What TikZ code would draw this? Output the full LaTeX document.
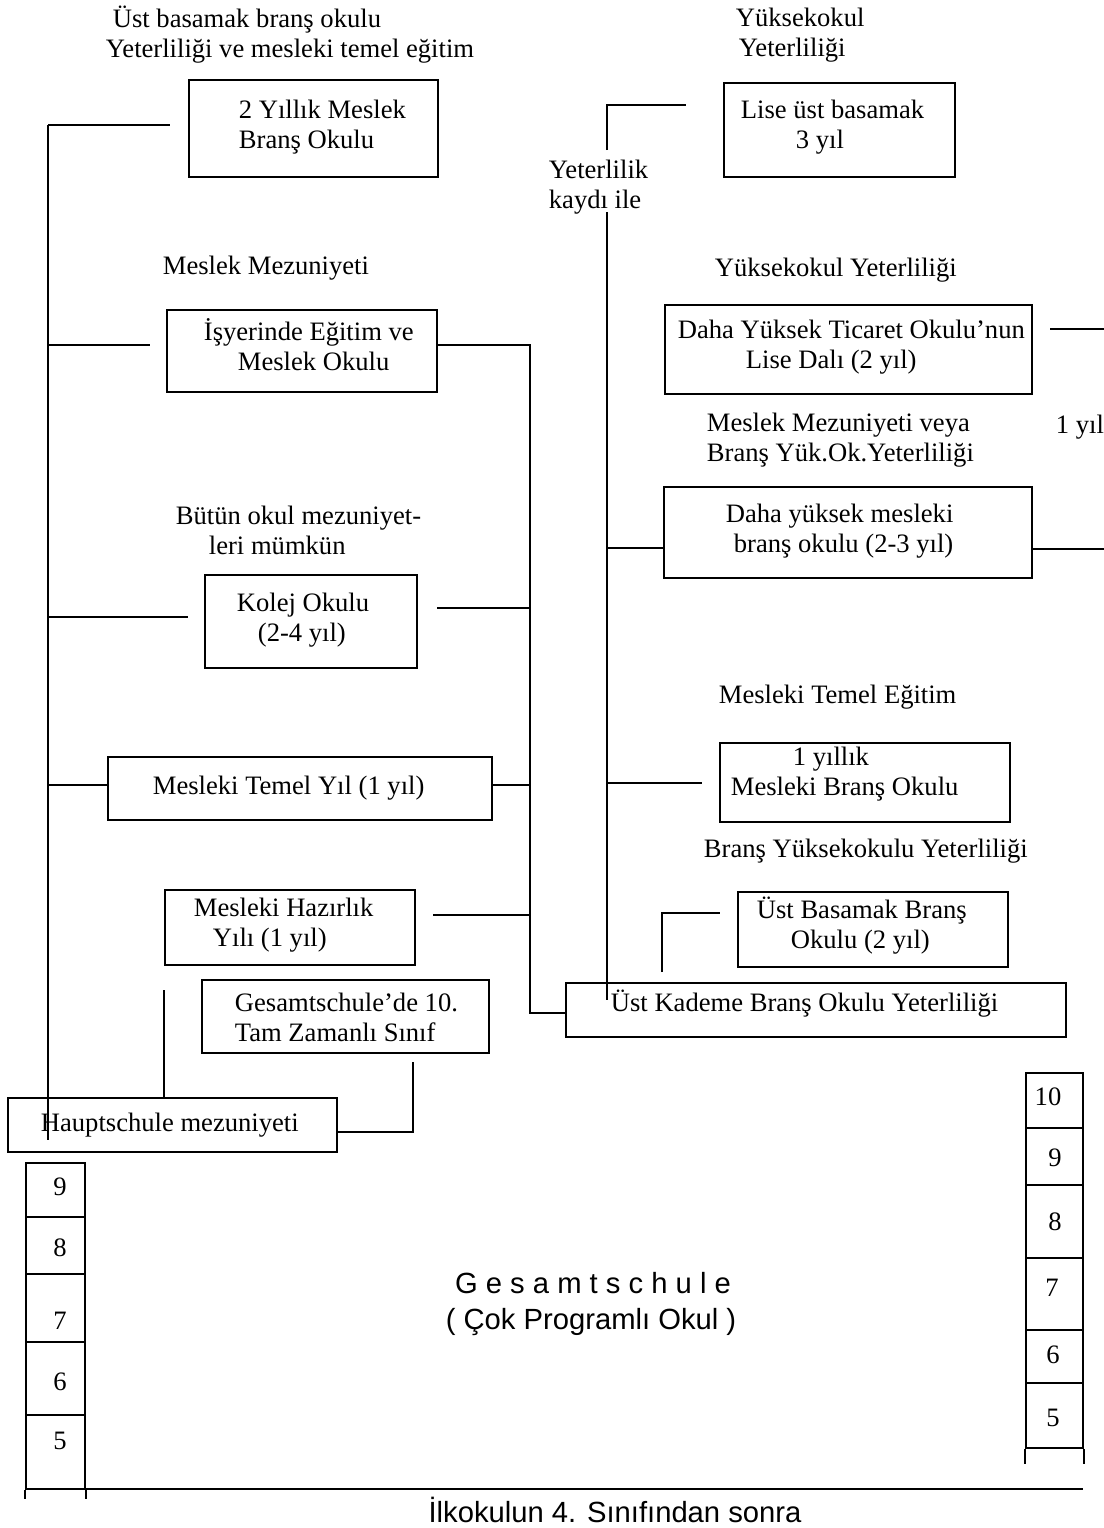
\documentclass[tikz,border=0pt]{standalone}
\usepackage{fontspec}
\setmainfont{Liberation Serif}
\newfontfamily\sansf{Liberation Sans}
\usetikzlibrary{fit,calc}
\begin{document}
\begin{tikzpicture}[x=0.5pt,y=-0.5pt,line width=0.9pt,
  every node/.style={font=\fontsize{13.3}{15}\selectfont, inner sep=0pt},
  box/.style={draw, inner sep=0pt, line width=0.9pt},
  txt/.style={anchor=west, align=left, inner sep=0pt},
  sans/.style={font=\sansf\fontsize{14.6}{17}\selectfont, inner sep=0pt},
  num/.style={inner sep=0pt}]
\useasboundingbox (0,0) rectangle (1104,1528);

% ---------- labels above boxes ----------
\node[txt] (lUst) at (105,35) {\hspace*{3.5pt}Üst basamak branş okulu\\Yeterliliği ve mesleki temel eğitim};
\node[txt] (lYuk) at (735,35) {Yüksekokul\\\hspace*{1.5pt}Yeterliliği};
\node[txt] (lYet) at (548,187) {Yeterlilik\\kaydı ile};
\node[txt] (lMM) at (162,268) {Meslek Mezuniyeti};
\node[txt] (lYY) at (714,270) {Yüksekokul Yeterliliği};
\node[txt] (lBut) at (175,530) {Bütün okul mezuniyet-\\\hspace*{16.5pt}leri mümkün};
\node[txt] (lMMv) at (706,440) {Meslek Mezuniyeti veya\\Branş Yük.Ok.Yeterliliği};
\node[txt] (l1y) at (1055,427) {1 yıl};
\node[txt] (lMTE) at (718,697) {Mesleki Temel Eğitim};
\node[txt] (lBYY) at (703,851) {Branş Yüksekokulu Yeterliliği};

% ---------- boxes ----------
\node[box, fit={(189,80)(438,177)}] (bA) {};
\node[txt] (tA) at (238,127) {2 Yıllık Meslek\\Branş Okulu};

\node[box, fit={(724,83)(955,177)}] (bB) {};
\node[txt] (tB) at (740,127) {Lise üst basamak\\\hspace*{27.5pt}3 yıl};

\node[box, fit={(167,310)(437,392)}] (bC) {};
\node[txt] (tC) at (203,345) {İşyerinde Eğitim ve\\\hspace*{17pt}Meslek Okulu};

\node[box, fit={(665,305)(1032,394)}] (bJ) {};
\node[txt] (tJ) at (677,347) {Daha Yüksek Ticaret Okulu’nun\\\hspace*{34pt}Lise Dalı (2 yıl)};

\node[box, fit={(664,487)(1032,578)}] (bK) {};
\node[txt] (tK) at (725,531) {Daha yüksek mesleki\\\hspace*{4pt}branş okulu (2-3 yıl)};

\node[box, fit={(205,575)(417,668)}] (bD) {};
\node[txt] (tD) at (236,620) {Kolej Okulu\\\hspace*{10.5pt}(2-4 yıl)};

\node[box, fit={(720,743)(1010,822)}] (bL) {};
\node[txt] (tL) at (730,774) {\hspace*{31pt}1 yıllık\\Mesleki Branş Okulu};

\node[box, fit={(108,757)(492,820)}] (bE) {};
\node[txt] (tE) at (152,788) {Mesleki Temel Yıl (1 yıl)};

\node[box, fit={(165,890)(415,965)}] (bF) {};
\node[txt] (tF) at (193,925) {Mesleki Hazırlık\\\hspace*{9.5pt}Yılı (1 yıl)};

\node[box, fit={(738,892)(1008,967)}] (bM) {};
\node[txt] (tM) at (756,926) {Üst Basamak Branş\\\hspace*{17pt}Okulu (2 yıl)};

\node[box, fit={(202,980)(489,1053)}] (bG) {};
\node[txt] (tG) at (234,1017) {Gesamtschule’de 10.\\Tam Zamanlı Sınıf};

\node[box, fit={(566,983)(1066,1037)}] (bI) {};
\node[txt] (tI) at (610,1004) {Üst Kademe Branş Okulu Yeterliliği};

\node[box, fit={(8,1098)(337,1152)}] (bH) {};
\node[txt] (tH) at (40,1125) {Hauptschule mezuniyeti};

% ---------- connector points ----------
\coordinate (L0) at (48,125);
\coordinate (L1) at (48,1140);
\coordinate (cA) at (170,125);
\coordinate (cC1) at (48,345);
\coordinate (cC2) at (150,345);
\coordinate (cD1) at (48,617);
\coordinate (cD2) at (188,617);
\coordinate (cE1) at (48,785);
\coordinate (cE2) at (530,785);
\coordinate (M0) at (530,345);
\coordinate (M1) at (530,1013);
\coordinate (cD3) at (437,608);
\coordinate (cD4) at (530,608);
\coordinate (cF1) at (433,915);
\coordinate (cF2) at (530,915);
\coordinate (cHF) at (164,990);
\coordinate (cHG1) at (413,1132);
\coordinate (cHG2) at (413,1062);
\coordinate (R0) at (607,212);
\coordinate (R1) at (607,1000);
\coordinate (cB1) at (607,150);
\coordinate (cB2) at (607,105);
\coordinate (cB3) at (686,105);
\coordinate (cK1) at (607,548);
\coordinate (cK2) at (1104,549);
\coordinate (cJ1) at (1050,329);
\coordinate (cJ2) at (1104,329);
\coordinate (cL1) at (607,783);
\coordinate (cL2) at (702,783);
\coordinate (cM1) at (662,972);
\coordinate (cM2) at (662,913);
\coordinate (cM3) at (720,913);

% ---------- connectors ----------
\draw (L0) -- (L1);
\draw (L0) -- (cA);
\draw (cC1) -- (cC2);
\draw (cD1) -- (cD2);
\draw (cE1) -- (cE1 -| bE.west);
\draw (bE.east |- cE2) -- (cE2);
\draw (bC.east |- M0) -- (M0) -- (M1) -- (M1 -| bI.west);
\draw (cD3) -- (cD4);
\draw (cF1) -- (cF2);
\draw (bH.north -| cHF) -- (cHF);
\draw (bH.east |- cHG1) -- (cHG1) -- (cHG2);
\draw (R0) -- (R1);
\draw (cB1) -- (cB2) -- (cB3);
\draw (cK1) -- (cK1 -| bK.west);
\draw (bK.east |- cK2) -- (cK2);
\draw (cJ1) -- (cJ2);
\draw (cL1) -- (cL2);
\draw (cM1) -- (cM2) -- (cM3);

% ---------- grade columns ----------
\node[box, fit={(26,1163)(85,1217)}] (g9) {};
\node[box, fit={(26,1217)(85,1274)}] (g8) {};
\node[box, fit={(26,1274)(85,1342)}] (g7) {};
\node[box, fit={(26,1342)(85,1415)}] (g6) {};
\node[box, fit={(26,1415)(85,1489)}] (g5) {};
\draw (g5.south west) -- ++(0,9);
\draw (g5.south east) -- ++(0,9);
\node[num] (n9) at (60,1187) {9};
\node[num] (n8) at (60,1248) {8};
\node[num] (n7) at (60,1321) {7};
\node[num] (n6) at (60,1382) {6};
\node[num] (n5) at (60,1441) {5};

\node[box, fit={(1026,1073)(1083,1128)}] (h10) {};
\node[box, fit={(1026,1128)(1083,1185)}] (h9) {};
\node[box, fit={(1026,1185)(1083,1258)}] (h8) {};
\node[box, fit={(1026,1258)(1083,1330)}] (h7) {};
\node[box, fit={(1026,1330)(1083,1383)}] (h6) {};
\node[box, fit={(1026,1383)(1083,1448)}] (h5) {};
\draw (h5.south west) -- ++(0,15);
\draw (h5.south east) -- ++(0,15);
\node[num] (m10) at (1048,1097) {10};
\node[num] (m9) at (1055,1158) {9};
\node[num] (m8) at (1055,1222) {8};
\node[num] (m7) at (1052,1288) {7};
\node[num] (m6) at (1053,1355) {6};
\node[num] (m5) at (1053,1418) {5};

\coordinate (base0) at (26,1489);
\coordinate (base1) at (1083,1489);
\draw (base0) -- (base1);

\node[sans] (gs) at (593,1283) {G e s a m t s c h u l e};
\node[sans] (cp) at (591,1322) {( Çok Programlı Okul )};
\node[sans] (ilk) at (615,1510) {İlkokulun 4. Sınıfından sonra};
\end{tikzpicture}
\end{document}
